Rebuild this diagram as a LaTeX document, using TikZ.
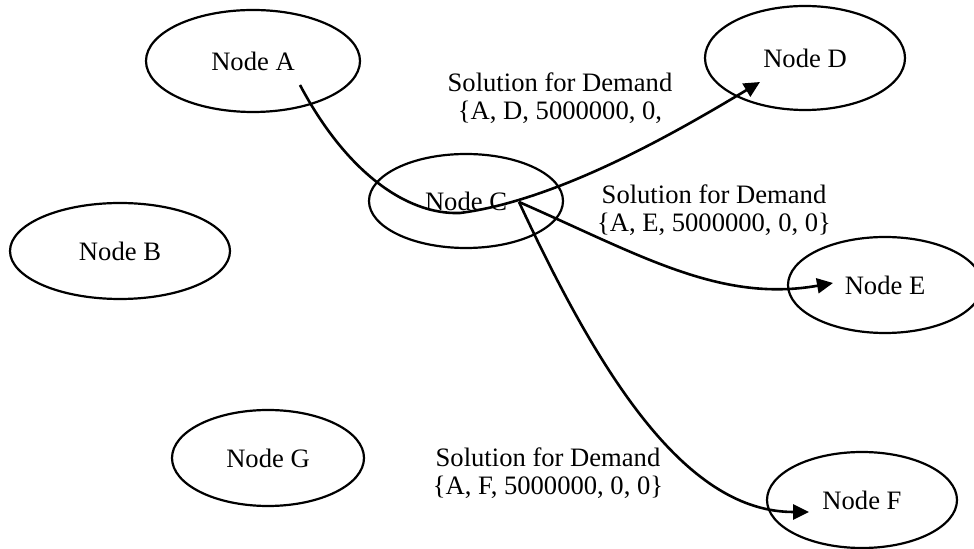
\documentclass[tikz,border=0pt]{standalone}
\usepackage{fontspec}
\setmainfont{Liberation Serif}
\usetikzlibrary{shapes.geometric,arrows.meta,calc}
\tikzset{
  ellnode/.style={draw=black, line width=1.1pt, ellipse, inner sep=0pt,
    font=\fontsize{13.3}{14}\selectfont},
  lbl/.style={align=center, inner sep=0pt, font=\fontsize{13.3}{14}\selectfont},
  conn/.style={draw=black, line width=1.3pt},
  arr/.style={conn, -{Triangle[length=8pt,width=7.5pt]}}
}
\begin{document}
\begin{tikzpicture}[x=0.5pt,y=-0.5pt]
\useasboundingbox (0,0) rectangle (974,549);
% nodes
\node[ellnode, minimum width=107pt, minimum height=51pt] (A) at (253,61) {Node A};
\node[ellnode, minimum width=110pt, minimum height=48pt] (B) at (120,251) {Node B};
\node[ellnode, minimum width=97pt, minimum height=47pt] (C) at (466,201) {Node C};
\node[ellnode, minimum width=100pt, minimum height=52pt] (D) at (805,58) {Node D};
\node[ellnode, minimum width=97pt, minimum height=48pt] (E) at (885,285) {Node E};
\node[ellnode, minimum width=95pt, minimum height=48pt] (F) at (862,500) {Node F};
\node[ellnode, minimum width=96pt, minimum height=48pt] (G) at (268,458) {Node G};
% labels
\node[lbl] (lD) at (560,98) {Solution for Demand\\\{A, D, 5000000, 0,};
\node[lbl] (lE) at (714,210) {Solution for Demand\\\{A, E, 5000000, 0, 0\}};
\node[lbl] (lF) at (548,473) {Solution for Demand\\\{A, F, 5000000, 0, 0\}};
% connector end points
\coordinate (dTip) at (760,82);
\coordinate (eTip) at (833,283);
\coordinate (fTip) at (809,512);
\coordinate (fork) at ($(C)+(53,1)$);
% connectors
\draw[arr] ($(A)+(47,24)$) .. controls ($(A)+(92,109)$) and ($(C)+(-61,14)$) .. ($(C)+(-6,12)$)
  .. controls ($(C)+(94,-1)$) and ($(C)+(214,-71)$) .. (dTip);
\draw[arr] (fork) .. controls (640,255) and (720,303) .. (eTip);
\draw[arr] (fork) .. controls (604,385) and (689,512) .. (fTip);
\end{tikzpicture}
\end{document}
